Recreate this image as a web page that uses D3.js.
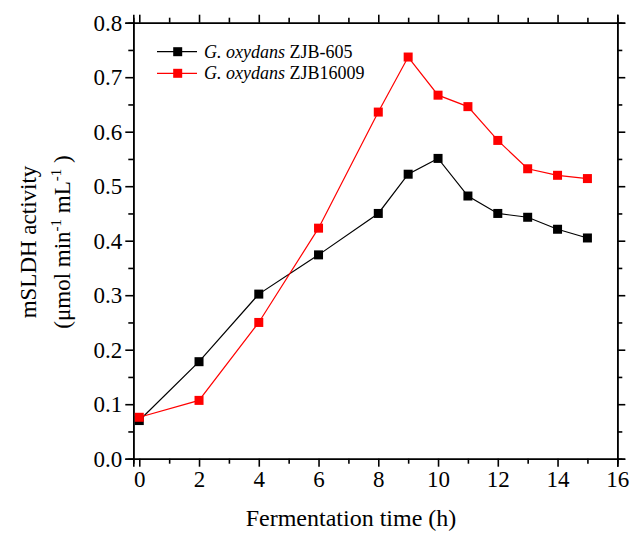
<!DOCTYPE html>
<html>
<head>
<meta charset="utf-8">
<script src="https://cdn.jsdelivr.net/npm/d3@7"></script>
<style>
  html, body { margin: 0; padding: 0; background: #fff; }
  svg { display: block; }
  svg text { font-family: "Liberation Serif", "Times New Roman", serif; fill: #000; }
</style>
</head>
<body>
<svg id="chart" width="639" height="534"></svg>
<script>
// Fermentation time (h)
const times = [0, 2, 4, 6, 8, 9, 10, 11, 12, 13, 14, 15];
// mSLDH activity (µmol min^-1 mL^-1)
const zjb605 = [0.070, 0.178, 0.302, 0.374, 0.450, 0.522, 0.551, 0.482, 0.450, 0.443, 0.421, 0.405];
const zjb16009 = [0.076, 0.107, 0.250, 0.423, 0.636, 0.737, 0.667, 0.646, 0.584, 0.532, 0.520, 0.514];
const seriesNames = ["ZJB-605", "ZJB16009"];
const seriesColors = ["#000000", "#ff0000"];
const xTicks = [0, 2, 4, 6, 8, 10, 12, 14, 16];
const yTicks = [0.0, 0.1, 0.2, 0.3, 0.4, 0.5, 0.6, 0.7, 0.8];

const svg = d3.select("#chart");
const m = { left: 133.3, right: 617.3, top: 22.7, bottom: 458.7 };

const x = d3.scaleLinear().domain([-0.2, 16]).range([m.left, m.right]);
const y = d3.scaleLinear().domain([0, 0.8]).range([m.bottom, m.top]);

const minorX = d3.range(0, 16.01, 1).filter(v => !xTicks.includes(v));
const minorY = d3.range(0.05, 0.8, 0.1);

function styleAxis(g) {
  g.attr("font-family", null).attr("font-size", null);
  g.select(".domain").attr("stroke", "#000").attr("stroke-width", 1.6);
  g.selectAll(".tick line").attr("stroke", "#000").attr("stroke-width", 1.6);
  g.selectAll(".tick text").attr("fill", "#000").style("font-size", "23px");
}

// Major + minor ticks on all four sides, pointing outward
const axes = [
  { gen: d3.axisBottom, scale: x, ticks: xTicks, minor: minorX, pos: `translate(0,${m.bottom})`, labels: true, fmt: d3.format("d"), pad: 4 },
  { gen: d3.axisTop, scale: x, ticks: xTicks, minor: minorX, pos: `translate(0,${m.top})`, labels: false, pad: 3 },
  { gen: d3.axisLeft, scale: y, ticks: yTicks, minor: minorY, pos: `translate(${m.left},0)`, labels: true, fmt: d3.format(".1f"), pad: 3 },
  { gen: d3.axisRight, scale: y, ticks: yTicks, minor: minorY, pos: `translate(${m.right},0)`, labels: false, pad: 3 }
];

axes.forEach(a => {
  svg.append("g").attr("transform", a.pos)
    .call(a.gen(a.scale).tickValues(a.minor).tickSize(5).tickFormat(""))
    .call(styleAxis);
  svg.append("g").attr("transform", a.pos)
    .call(a.gen(a.scale).tickValues(a.ticks).tickSize(8).tickPadding(a.pad)
      .tickFormat(a.labels ? a.fmt : ""))
    .call(styleAxis);
});

// Series lines and square markers
const series = [zjb605, zjb16009];
const line = d3.line().x((d, i) => x(times[i])).y(d => y(d));
const sz = 9;

series.forEach((vals, k) => {
  svg.append("path").datum(vals)
    .attr("d", line)
    .attr("fill", "none")
    .attr("stroke", seriesColors[k])
    .attr("stroke-width", 1.2);
});
series.forEach((vals, k) => {
  svg.append("g").selectAll("rect").data(vals).join("rect")
    .attr("x", (d, i) => x(times[i]) - sz / 2)
    .attr("y", d => y(d) - sz / 2)
    .attr("width", sz).attr("height", sz)
    .attr("fill", seriesColors[k]);
});

// Legend
const legend = svg.append("g");
seriesNames.forEach((name, k) => {
  const ly = 51.7 + k * 21.6;
  legend.append("line").attr("x1", 157).attr("x2", 197).attr("y1", ly).attr("y2", ly)
    .attr("stroke", seriesColors[k]).attr("stroke-width", 1.2);
  legend.append("rect").attr("x", 177.7 - sz / 2).attr("y", ly - sz / 2)
    .attr("width", sz).attr("height", sz).attr("fill", seriesColors[k]);
  const t = legend.append("text").attr("x", 204).attr("y", ly + 6)
    .style("font-size", "18px");
  t.append("tspan").style("font-style", "italic").text("G. oxydans");
  t.append("tspan").text(" " + name);
});

// Axis titles
svg.append("text")
  .attr("x", 351).attr("y", 526)
  .attr("text-anchor", "middle").style("font-size", "24px")
  .text("Fermentation time (h)");

const yl = svg.append("g").attr("transform", "translate(0,242) rotate(-90)");
yl.append("text").attr("x", 0).attr("y", 36)
  .attr("text-anchor", "middle").style("font-size", "23px")
  .text("mSLDH activity");
const yl2 = yl.append("text").attr("x", 0).attr("y", 70)
  .attr("text-anchor", "middle").style("font-size", "23px");
yl2.append("tspan").text("(μmol min");
yl2.append("tspan").attr("dy", -9).style("font-size", "15px").text("-1");
yl2.append("tspan").attr("dy", 9).text(" mL");
yl2.append("tspan").attr("dy", -9).style("font-size", "15px").text("-1");
yl2.append("tspan").attr("dy", 9).text(" )");
</script>
</body>
</html>
